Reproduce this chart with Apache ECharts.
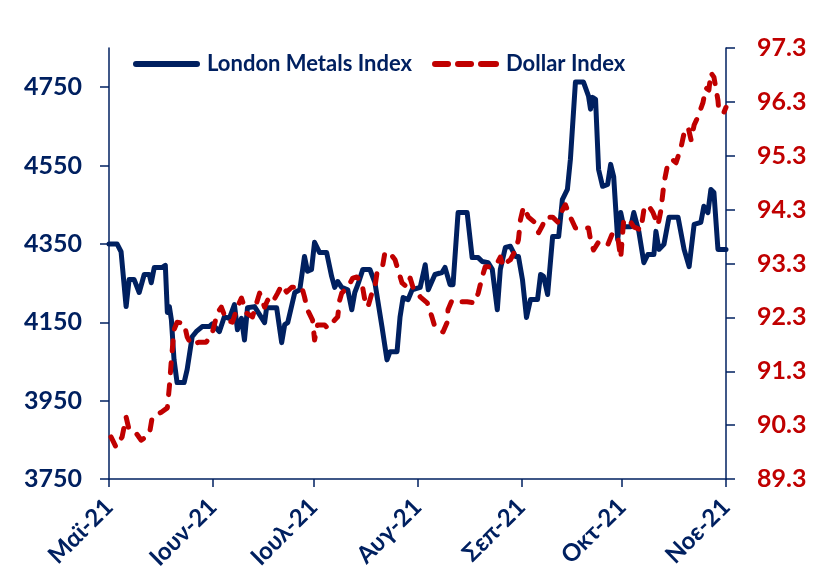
<!DOCTYPE html>
<html>
<head>
<meta charset="utf-8">
<script src="https://cdn.jsdelivr.net/npm/echarts@6/dist/echarts.min.js"></script>
<style>
  html, body { margin: 0; padding: 0; background: #fff; }
  #main { width: 814px; height: 580px; }
</style>
</head>
<body>
<div id="main"></div>
<script>
// x = days since 1 May 2021
const monthDays = [0, 31, 61, 92, 123, 153, 184];
const monthLabels = ["Μαϊ-21", "Ιουν-21", "Ιουλ-21", "Αυγ-21", "Σεπ-21", "Οκτ-21", "Νοε-21"];
const lmeTicks = [3750, 3950, 4150, 4350, 4550, 4750];

const lmeDays = [0, 2.4, 3.6, 5.1, 6.0, 7.5, 9.0, 10.5, 12.0, 12.6, 13.5, 15.9, 16.8, 17.4, 18.0, 18.6, 19.4, 20.3, 22.4, 23.3,
  24.8, 26.0, 27.8, 29.9, 30.8, 32.9, 34.4, 35.9, 37.4, 38.3, 39.5, 40.4, 41.3, 43.4, 46.4, 47.0, 50.0, 51.5, 52.4, 53.3,
  55.4, 56.9, 58.3, 59.2, 60.4, 61.3, 62.8, 64.9, 66.4, 67.3, 68.2, 69.4, 71.2, 72.4, 73.3, 74.2, 75.7, 77.8, 79.3, 81.4,
  82.9, 83.8, 85.9, 86.8, 87.7, 89.2, 90.4, 92.8, 94.3, 95.2, 97.2, 99.3, 100.2, 101.7, 102.6, 104.1, 106.8, 108.3, 110.1, 111.3,
  113.1, 114.3, 115.8, 116.7, 118.2, 119.7, 121.2, 122.1, 123.3, 124.5, 125.7, 127.8, 128.7, 129.6, 130.8, 132.3, 134.1, 135.2, 136.7, 137.6,
  139.1, 141.5, 143.0, 143.6, 144.2, 145.1, 146.0, 147.2, 148.7, 149.6, 150.5, 151.7, 152.6, 153.5, 155.6, 156.5, 158.0, 159.5, 160.7, 162.5,
  163.1, 164.0, 165.5, 167.0, 169.7, 171.5, 173.0, 174.5, 176.5, 177.4, 178.6, 179.5, 180.4, 181.6, 184];
const lmeValues = [4350, 4350, 4330, 4190, 4259, 4259, 4226, 4272, 4272, 4251, 4290, 4290, 4295, 4175, 4190, 4157, 4054, 3996, 3996, 4029,
  4113, 4126, 4139, 4139, 4146, 4126, 4164, 4160, 4195, 4131, 4160, 4105, 4187, 4190, 4149, 4187, 4187, 4098, 4144, 4149,
  4226, 4233, 4318, 4280, 4285, 4354, 4328, 4328, 4267, 4239, 4254, 4239, 4233, 4182, 4226, 4246, 4285, 4285, 4251, 4139,
  4054, 4075, 4075, 4164, 4213, 4208, 4233, 4239, 4297, 4233, 4272, 4277, 4290, 4246, 4246, 4430, 4430, 4315, 4315, 4305,
  4302, 4285, 4182, 4285, 4341, 4344, 4318, 4318, 4259, 4162, 4208, 4208, 4272, 4267, 4221, 4369, 4369, 4463, 4489, 4566,
  4763, 4763, 4727, 4694, 4724, 4719, 4540, 4497, 4502, 4553, 4522, 4361, 4430, 4394, 4394, 4430, 4382, 4302, 4323, 4323,
  4382, 4336, 4349, 4418, 4418, 4336, 4292, 4400, 4405, 4446, 4430, 4489, 4481, 4336, 4336];

const dxyDays = [0.6, 2.1, 3.9, 5.1, 6.0, 8.1, 9.6, 12.0, 12.9, 15.6, 17.4, 18.0, 18.6, 19.4, 20.3, 22.4, 23.3, 24.5, 26.9, 29.0,
  30.8, 32.3, 33.5, 35.0, 36.8, 38.3, 39.5, 41.0, 42.8, 44.9, 46.4, 47.3, 48.5, 50.3, 51.5, 53.0, 54.5, 57.5, 58.3, 59.2,
  60.7, 61.3, 62.2, 64.3, 65.2, 67.3, 68.2, 68.8, 69.4, 71.2, 72.7, 73.9, 75.4, 76.3, 77.2, 78.4, 79.3, 79.9, 81.4, 82.3,
  83.8, 85.3, 86.2, 87.4, 88.9, 89.8, 90.7, 92.2, 92.8, 94.9, 96.3, 97.2, 99.6, 100.8, 101.1, 102.3, 104.7, 106.8, 109.2, 110.1,
  111.3, 112.2, 114.3, 115.8, 116.7, 117.6, 118.8, 119.7, 121.2, 122.1, 122.7, 123.6, 125.1, 127.2, 128.1, 129.3, 130.2, 132.3, 133.8, 135.2,
  136.1, 137.6, 139.1, 143.0, 143.6, 144.5, 146.0, 148.7, 150.2, 151.7, 152.6, 153.5, 155.0, 156.5, 158.6, 159.5, 160.7, 162.2, 163.7, 164.6,
  165.5, 166.7, 168.2, 169.1, 170.6, 171.5, 172.7, 173.6, 174.5, 175.6, 177.1, 178.0, 178.9, 179.5, 180.4, 181.6, 181.9, 183.4, 184];
const dxyValues = [90.08, 89.89, 90.08, 90.45, 90.21, 90.15, 90.02, 90.12, 90.45, 90.54, 90.62, 91.01, 91.51, 92.07, 92.21, 92.19, 91.94, 91.79, 91.84, 91.84,
  92.01, 92.38, 92.49, 92.25, 92.21, 92.49, 92.66, 92.38, 92.31, 92.75, 92.49, 92.62, 92.55, 92.75, 92.90, 92.77, 92.86, 92.86, 92.68, 92.44,
  92.25, 91.88, 92.16, 92.16, 92.10, 92.25, 92.31, 92.62, 92.75, 92.86, 93.03, 93.05, 92.94, 92.62, 92.49, 92.75, 92.86, 93.12, 93.18, 93.51,
  93.49, 93.37, 93.18, 92.94, 92.86, 93.03, 92.85, 92.75, 92.68, 92.57, 92.31, 92.12, 92.03, 92.20, 92.44, 92.62, 92.59, 92.59, 92.57, 92.75,
  93.05, 93.24, 93.24, 93.31, 93.42, 93.24, 93.33, 93.37, 93.55, 93.74, 94.11, 94.35, 94.16, 94.05, 93.87, 94.01, 94.16, 94.16, 94.07, 94.29,
  94.39, 94.16, 93.96, 93.96, 93.74, 93.55, 93.70, 93.64, 93.87, 93.80, 93.40, 94.11, 94.12, 93.98, 93.92, 94.29, 94.39, 94.25, 94.01, 94.29,
  94.79, 95.17, 95.22, 95.17, 95.46, 95.72, 95.83, 95.59, 95.87, 96.02, 96.28, 96.56, 96.52, 96.84, 96.76, 96.33, 96.11, 96.11, 96.20];

const navy = "#002060";
const red = "#C00000";
const font = "Lato, 'Open Sans', sans-serif";

// legend icons: solid bar and three rounded dashes
const solidIcon = "path://M3,0 H64 A3,3 0 0 1 64,6 H3 A3,3 0 0 1 3,0 Z";
const dashIcon = "path://M3,0 H16 A3,3 0 0 1 16,6 H3 A3,3 0 0 1 3,0 Z M26,0 H39 A3,3 0 0 1 39,6 H26 A3,3 0 0 1 26,0 Z M49,0 H64 A3,3 0 0 1 64,6 H49 A3,3 0 0 1 49,0 Z";

const myChart = echarts.init(document.getElementById("main"), null, { renderer: "canvas" });

const option = {
  animation: false,
  backgroundColor: "#fff",
  grid: { left: 109, right: 88, top: 48, bottom: 101, containLabel: false },
  legend: {
    left: 128,
    top: 48,
    itemWidth: 67,
    itemHeight: 6,
    itemGap: 20,
    textStyle: { color: navy, fontFamily: font, fontWeight: "bold", fontSize: 22, padding: [0, 0, 0, 2] },
    data: [
      { name: "London Metals Index", icon: solidIcon },
      { name: "Dollar Index", icon: dashIcon }
    ]
  },
  xAxis: {
    type: "value",
    min: 0,
    max: 184,
    axisLine: { lineStyle: { color: navy, width: 1.5 } },
    axisTick: { show: true, length: 8, customValues: monthDays, lineStyle: { color: navy, width: 1.5 } },
    axisLabel: {
      customValues: monthDays,
      rotate: 45,
      margin: 24,
      color: navy,
      fontFamily: font,
      fontWeight: "bold",
      fontSize: 24,
      formatter: function (v) { return monthLabels[monthDays.indexOf(v)]; }
    },
    splitLine: { show: false }
  },
  yAxis: [
    {
      type: "value",
      min: 3750,
      max: 4850,
      interval: 200,
      position: "left",
      axisLine: { show: true, lineStyle: { color: navy, width: 1.5 } },
      axisTick: { show: true, length: 9, customValues: lmeTicks, lineStyle: { color: navy, width: 1.5 } },
      axisLabel: {
        customValues: lmeTicks,
        color: navy, fontFamily: font, fontWeight: "bold", fontSize: 25, margin: 27,
        formatter: function (v) { return String(v); }
      },
      splitLine: { show: false }
    },
    {
      type: "value",
      min: 89.3,
      max: 97.3,
      interval: 1,
      position: "right",
      axisLine: { show: true, lineStyle: { color: navy, width: 1.5 } },
      axisTick: { show: true, length: 9, lineStyle: { color: navy, width: 1.5 } },
      axisLabel: {
        color: red, fontFamily: font, fontWeight: "bold", fontSize: 25, margin: 31,
        formatter: function (v) { return v.toFixed(1); }
      },
      splitLine: { show: false }
    }
  ],
  series: [
    {
      name: "London Metals Index",
      type: "line",
      yAxisIndex: 0,
      showSymbol: false,
      color: navy,
      lineStyle: { color: navy, width: 5, join: "round", cap: "round" },
      data: lmeDays.map((d, i) => [d, lmeValues[i]])
    },
    {
      name: "Dollar Index",
      type: "line",
      yAxisIndex: 1,
      showSymbol: false,
      color: red,
      lineStyle: { color: red, width: 5, type: [10, 12], cap: "round", join: "round" },
      data: dxyDays.map((d, i) => [d, dxyValues[i]])
    }
  ]
};

option && myChart.setOption(option);
</script>
</body>
</html>
